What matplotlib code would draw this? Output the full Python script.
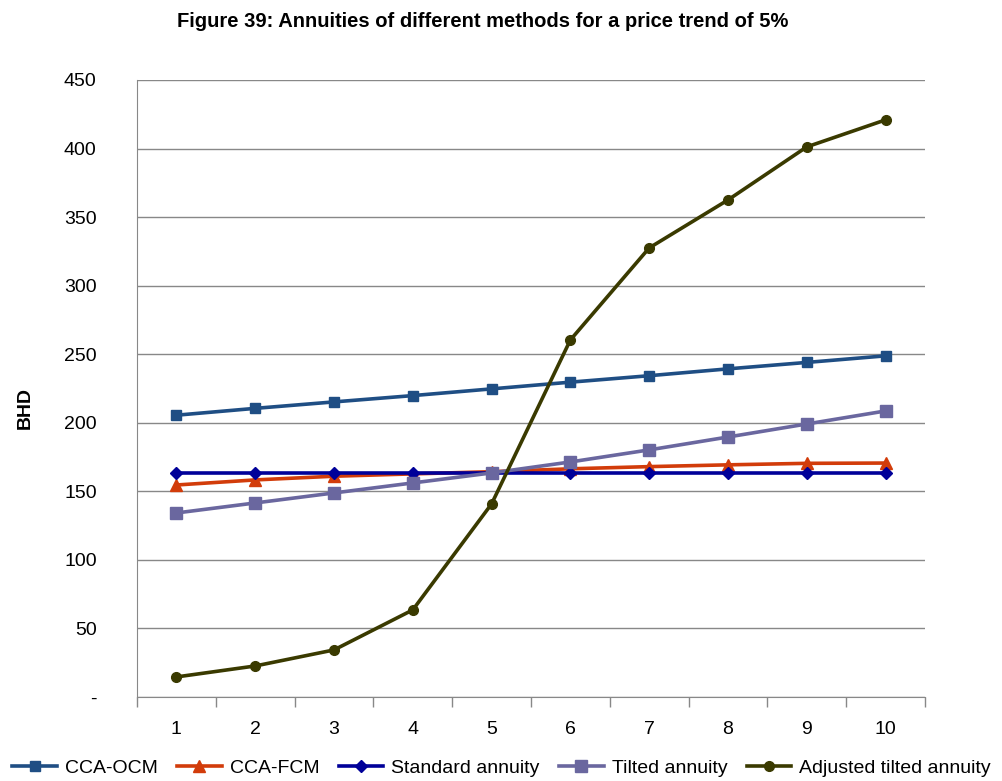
import numpy as np
import matplotlib.pyplot as plt

plt.rcParams['font.family'] = ['Liberation Sans', 'DejaVu Sans']

years = [1, 2, 3, 4, 5, 6, 7, 8, 9, 10]
cca_ocm = [205.5, 210.5, 215.2, 219.8, 224.7, 229.6, 234.3, 239.3, 244.0, 248.8]
cca_fcm = [154.6, 158.3, 161.0, 162.7, 164.3, 166.4, 168.0, 169.3, 170.4, 170.6]
standard = [163.4] * 10
tilted = [134.2, 141.5, 148.8, 156.1, 163.4, 171.4, 180.2, 189.6, 199.1, 208.6]
adjusted = [14.6, 22.6, 34.3, 63.5, 140.8, 260.4, 327.5, 362.5, 401.2, 420.9]

y_ticks = [0, 50, 100, 150, 200, 250, 300, 350, 400, 450]
y_labels = ['-'] + [str(v) for v in y_ticks[1:]]

fig = plt.figure(figsize=(10.03, 7.81), dpi=100)
ax = fig.add_axes([0.1366, 0.1076, 0.7856, 0.79])

series = [
    ('CCA-OCM', cca_ocm, '#1F4E84', 's', 7),
    ('CCA-FCM', cca_fcm, '#D23C0A', '^', 8),
    ('Standard annuity', standard, '#000099', 'D', 6),
    ('Tilted annuity', tilted, '#6A679F', 's', 8.5),
    ('Adjusted tilted annuity', adjusted, '#3A3A00', 'o', 7),
]
for name, vals, col, mk, ms in series:
    ax.plot(years, vals, color=col, marker=mk, markersize=ms, linewidth=2.6,
            label=name, zorder=3)

ax.set_xlim(0.5, 10.5)
ax.set_ylim(0, 450)
ax.set_yticks(y_ticks)
ax.set_yticklabels(y_labels)
ax.set_xticks(years)
ax.set_xticks(np.arange(0.5, 11, 1), minor=True)
ax.tick_params(axis='x', which='major', length=0, pad=17, labelsize=14)
ax.tick_params(axis='x', which='minor', length=7, color='#888888', width=1)
ax.tick_params(axis='y', length=0, pad=29, labelsize=14)
ax.grid(axis='y', color='#888888', linewidth=1, zorder=0)
for s in ['top', 'right']:
    ax.spines[s].set_visible(False)
for s in ['left', 'bottom']:
    ax.spines[s].set_color('#888888')

fig.text(25 / 1003, 1 - 408 / 781, 'BHD', rotation=90, ha='center', va='center',
         fontsize=14, fontweight='bold')
fig.text(0.4815, 0.972, 'Figure 39: Annuities of different methods for a price trend of 5%',
         ha='center', va='center', fontsize=14.5, fontweight='bold')

fig.legend(loc='center', bbox_to_anchor=(0.5, 0.017), ncol=5, frameon=False,
           fontsize=14, handlelength=2.3, columnspacing=1.0, handletextpad=0.4)

fig.savefig('out.png', dpi=100)
